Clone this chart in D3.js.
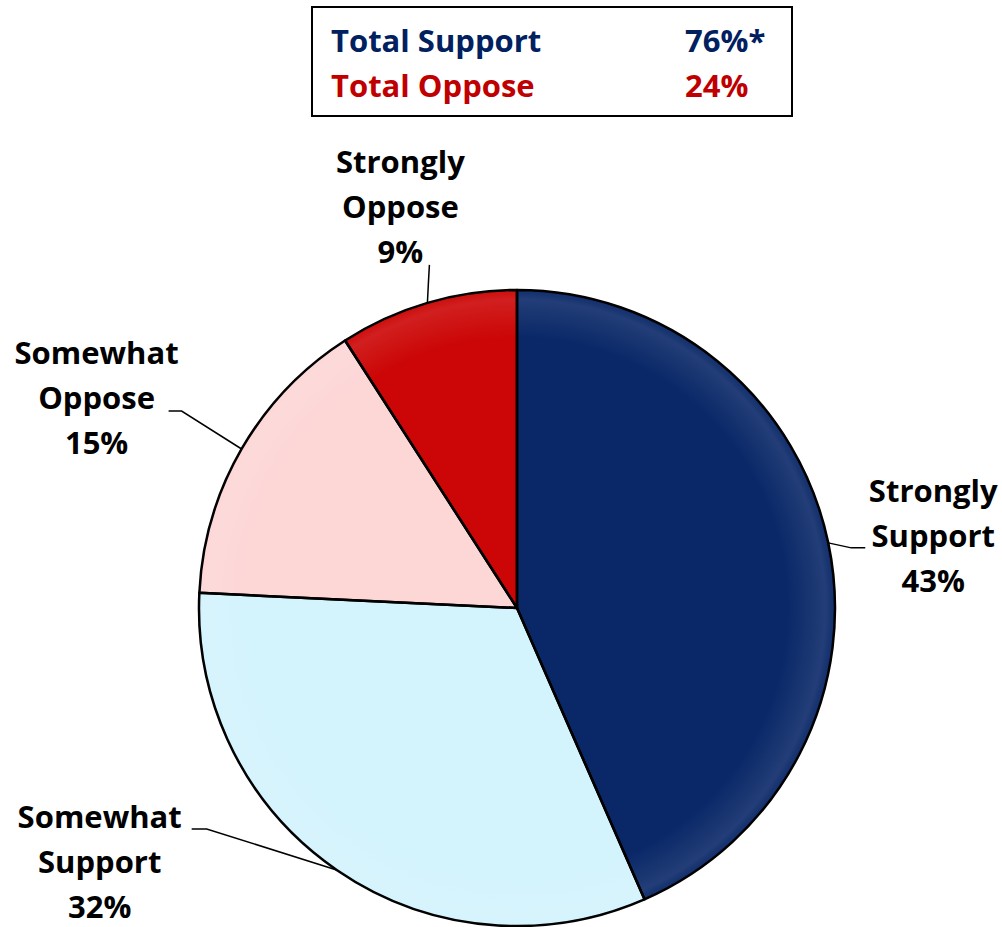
<!DOCTYPE html>
<html>
<head>
<meta charset="utf-8">
<script src="https://cdn.jsdelivr.net/npm/d3@7"></script>
<style>
  html, body { margin: 0; padding: 0; background: #fff; }
  svg { display: block; }
  text { font-family: "Open Sans", Lato, sans-serif; font-weight: 700; }
</style>
</head>
<body>
<svg id="chart" width="1002" height="927"></svg>
<script>
// ---- data ----
const categories = ["Strongly Support", "Somewhat Support", "Somewhat Oppose", "Strongly Oppose"];
const labelLines = [["Strongly", "Support"], ["Somewhat", "Support"], ["Somewhat", "Oppose"], ["Strongly", "Oppose"]];
const values = [43, 32, 15, 9];
const summaryLabels = ["Total Support", "Total Oppose"];
const summaryValues = ["76%*", "24%"];

// ---- style / layout ----
const colors = ["#0a2868", "#d3f3fd", "#fdd6d6", "#cc0606"];
const summaryColors = ["#002060", "#c00000"];
const cx = 517, cy = 608, R = 318;
// label layout: knee offset, end offset and text anchor (relative to the leader start point on the rim)
const labelLayout = [
  { knee: [23, 5], end: [37, 5], text: [105, -41] },
  { knee: [-130, -41], end: [-145, -41], text: [-237, -42] },
  { knee: [-60, -38], end: [-73, -38], text: [-145, -85] },
  { knee: [1, -20], end: [2, -38], text: [-27, -130] }
];

const svg = d3.select("#chart");
const defs = svg.append("defs");

const rg = defs.append("radialGradient")
  .attr("id", "rim").attr("gradientUnits", "userSpaceOnUse")
  .attr("cx", 0).attr("cy", 0).attr("r", R);
rg.append("stop").attr("offset", "0.85").attr("stop-color", "#fff").attr("stop-opacity", 0);
rg.append("stop").attr("offset", "0.97").attr("stop-color", "#fff").attr("stop-opacity", 0.1);
rg.append("stop").attr("offset", "1").attr("stop-color", "#fff").attr("stop-opacity", 0.03);

const pie = d3.pie().sort(null).value(d => d)(values);
const arc = d3.arc().innerRadius(0).outerRadius(R);

const g = svg.append("g").attr("transform", `translate(${cx},${cy})`);
g.selectAll("path.slice").data(pie).join("path")
  .attr("class", "slice")
  .attr("d", arc)
  .attr("fill", (d, i) => colors[i]);
g.append("circle").attr("r", R).attr("fill", "url(#rim)");
g.selectAll("path.outline").data(pie).join("path")
  .attr("class", "outline")
  .attr("d", arc)
  .attr("fill", "none")
  .attr("stroke", "#000")
  .attr("stroke-width", 2.5)
  .attr("stroke-linejoin", "round");

// labels with leader lines
pie.forEach((d, i) => {
  const a = (d.startAngle + d.endAngle) / 2;
  const sx = cx + R * Math.sin(a), sy = cy - R * Math.cos(a);
  const L = labelLayout[i];
  svg.append("polyline")
    .attr("points", [[sx, sy], [sx + L.knee[0], sy + L.knee[1]], [sx + L.end[0], sy + L.end[1]]].map(p => p.join(",")).join(" "))
    .attr("fill", "none").attr("stroke", "#000").attr("stroke-width", 1.5);
  const t = svg.append("text")
    .attr("x", sx + L.text[0]).attr("y", sy + L.text[1])
    .attr("text-anchor", "middle")
    .attr("font-size", 31)
    .attr("fill", "#000");
  const lines = labelLines[i].concat([Math.round(d.value) + "%"]);
  lines.forEach((ln, k) => {
    t.append("tspan").attr("x", sx + L.text[0]).attr("dy", k === 0 ? 0 : 45).text(ln);
  });
});

// summary box
svg.append("rect").attr("x", 312).attr("y", 7).attr("width", 480).attr("height", 109)
  .attr("fill", "#fff").attr("stroke", "#000").attr("stroke-width", 2);
summaryLabels.forEach((s, i) => {
  svg.append("text").attr("x", 331).attr("y", 52 + i * 45)
    .attr("font-size", 31).attr("fill", summaryColors[i]).text(s);
  svg.append("text").attr("x", 685).attr("y", 52 + i * 45)
    .attr("font-size", 31).attr("fill", summaryColors[i]).text(summaryValues[i]);
});
</script>
</body>
</html>
